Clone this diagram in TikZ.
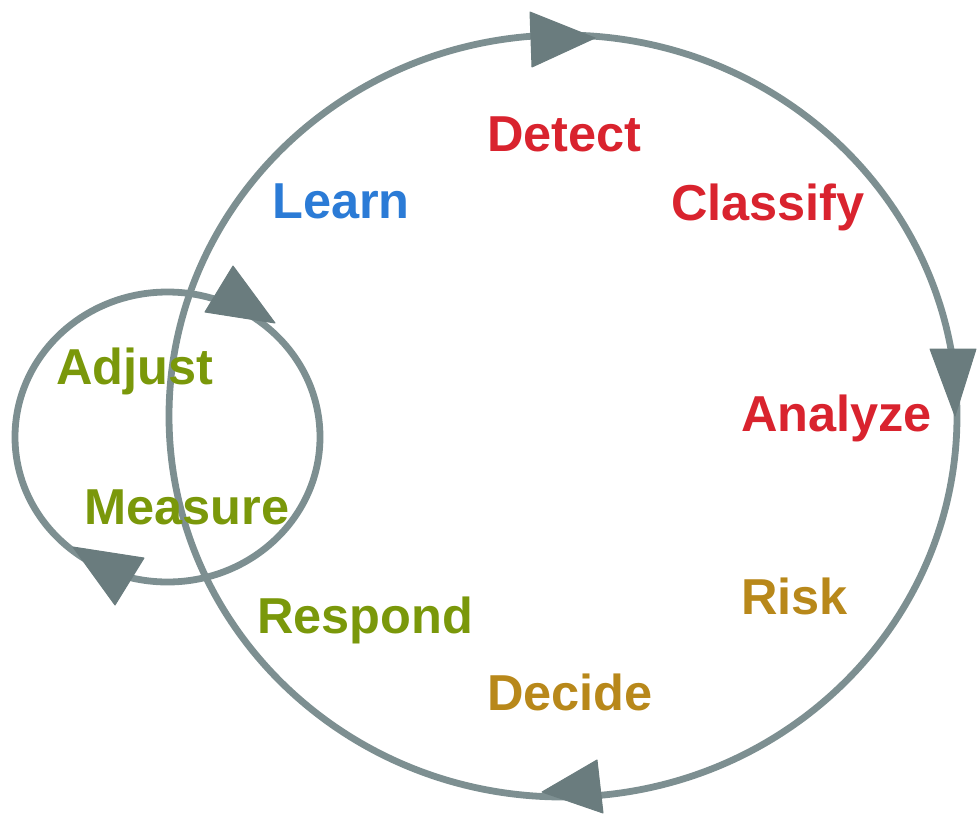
\documentclass[tikz,border=0pt]{standalone}
\usepackage{fontspec}
\setmainfont{Liberation Sans}
\begin{document}
\definecolor{ringgray}{RGB}{125,143,145}
\definecolor{tipgray}{RGB}{106,124,126}
\definecolor{cred}{RGB}{217,35,46}
\definecolor{cblue}{RGB}{43,123,214}
\definecolor{cgreen}{RGB}{122,152,10}
\definecolor{cgold}{RGB}{184,136,26}
\begin{tikzpicture}[x=1pt,y=-1pt,
  ring/.style={draw=ringgray,line width=6.8pt},
  tip/.style={fill=tipgray,draw=tipgray,line width=1pt,line join=round},
  word/.style={anchor=base west,inner sep=0pt,font=\fontsize{50.5}{56}\selectfont\bfseries}]
\useasboundingbox (0,0) rectangle (977,814);
% outer cycle and inner loop
\draw[ring] (563,416) ellipse [x radius=394, y radius=381];
\draw[ring] (167.5,437) ellipse [x radius=152.5, y radius=145];
% direction markers on the outer cycle
\fill[tip] (530,12) -- (532,67) -- (595,38) -- cycle;
\fill[tip] (930,349) -- (976,349) -- (955,416) -- cycle;
\fill[tip] (597,760) -- (603,813) -- (542,792) -- cycle;
% direction markers on the inner loop
\fill[tip] (233,266) -- (205,312) -- (275,323) -- cycle;
\fill[tip] (73,547) -- (144,558) -- (115,605) -- cycle;
% stage labels
\node[word,text=cred]   (detect)   at (487,151) {Detect};
\node[word,text=cred]   (classify) at (671,220) {Classify};
\node[word,text=cred]   (analyze)  at (741,431) {Analyze};
\node[word,text=cgold]  (risk)     at (741,614) {Risk};
\node[word,text=cgold]  (decide)   at (487,710) {Decide};
\node[word,text=cgreen] (respond)  at (257,633) {Respond};
\node[word,text=cgreen] (measure)  at (84,524)  {Measure};
\node[word,text=cgreen] (adjust)   at (56,384)  {Adjust};
\node[word,text=cblue]  (learn)    at (272,218) {Learn};
\end{tikzpicture}
\end{document}
